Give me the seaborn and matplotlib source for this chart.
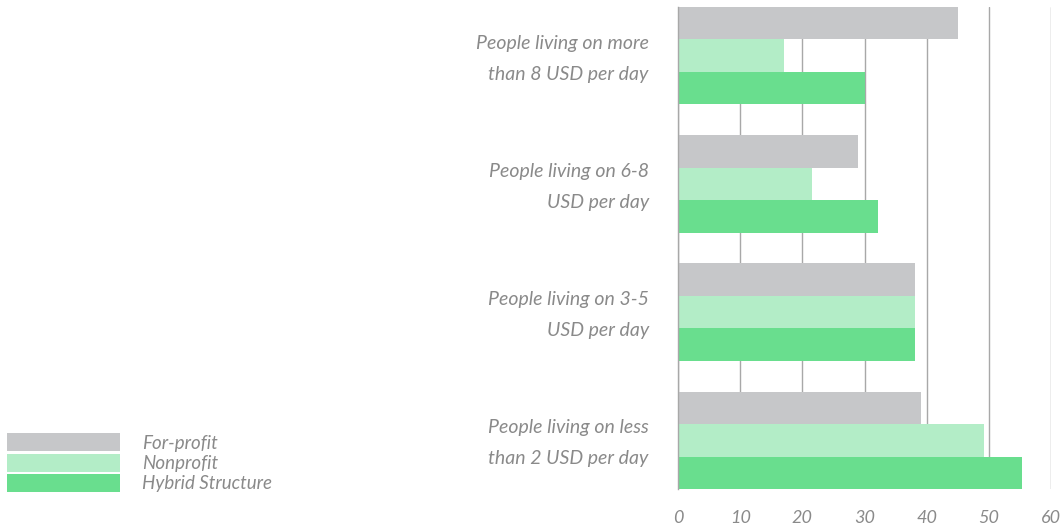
import pandas as pd
import matplotlib.pyplot as plt
import matplotlib.transforms as mtransforms
import seaborn as sns
from matplotlib.patches import Patch

# data
groups = ["People living on more\nthan 8 USD per day",
          "People living on 6-8\nUSD per day",
          "People living on 3-5\nUSD per day",
          "People living on less\nthan 2 USD per day"]
for_profit = [45.1, 29.0, 38.2, 39.1]
nonprofit = [17.1, 21.6, 38.2, 49.2]
hybrid = [30.1, 32.1, 38.2, 55.3]
series = ["For-profit", "Nonprofit", "Hybrid Structure"]
colors = ["#c6c7c9", "#b3edc7", "#69de8e"]
xticks = [0, 10, 20, 30, 40, 50, 60]

rows = []
for name, vals in zip(series, [for_profit, nonprofit, hybrid]):
    for g, v in zip(groups, vals):
        rows.append({"group": g, "series": name, "value": v})
df = pd.DataFrame(rows)

sns.set_style("white")
plt.rcParams["font.family"] = ["Lato", "DejaVu Sans"]
txt_col = "#8a8a8a"

fig = plt.figure(figsize=(10.62, 5.30), dpi=100)
ax = fig.add_axes([678 / 1062, 1 - 489 / 530, (1051 - 678) / 1062, (489 - 7) / 530])

sns.barplot(data=df, y="group", x="value", hue="series", order=groups,
            hue_order=series, palette=colors, orient="h", width=0.76,
            saturation=1, legend=False, linewidth=0, ax=ax)

ax.set_xlim(0, 60)
ax.set_ylim(3.38, -0.38)
ax.set_xticks(xticks)
ax.set_xticklabels([str(t) for t in xticks], fontstyle="italic", color=txt_col, fontsize=13)
ax.set_yticks(range(len(groups)))
ax.set_yticklabels(groups, fontstyle="italic", color=txt_col, fontsize=14,
                   linespacing=2.0, ha="right")
ax.tick_params(axis="both", length=0)
ax.tick_params(axis="y", pad=21)
ax.tick_params(axis="x", pad=15)
# nudge the category labels up a little
shift = mtransforms.ScaledTranslation(0, 4 / 72, fig.dpi_scale_trans)
for lab in ax.get_yticklabels():
    lab.set_transform(lab.get_transform() + shift)
ax.set_xlabel("")
ax.set_ylabel("")
ax.set_axisbelow(True)
ax.grid(axis="x", color="#a8a8a8", lw=1)
ax.grid(axis="y", visible=False)
for s in ["top", "right", "bottom"]:
    ax.spines[s].set_visible(False)
ax.spines["left"].set_color("#a8a8a8")
ax.spines["left"].set_linewidth(1)

handles = [Patch(facecolor=c, edgecolor="none", label=s) for c, s in zip(colors, series)]
leg = fig.legend(handles=handles, loc="lower left", bbox_to_anchor=(7 / 1062, 0.071),
                 frameon=False, handlelength=6.0, handleheight=1.1,
                 labelspacing=0.1, handletextpad=1.2, borderaxespad=0, borderpad=0,
                 prop={"style": "italic", "size": 13.5})
for t in leg.get_texts():
    t.set_color(txt_col)

fig.savefig("out.png", dpi=100)
